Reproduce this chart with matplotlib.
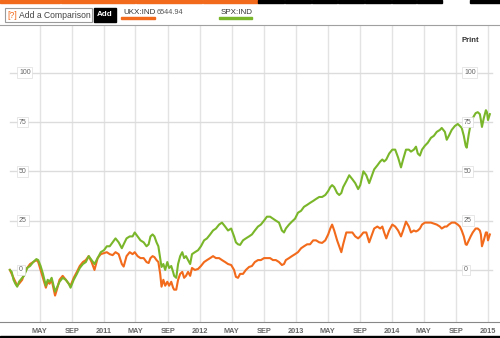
import matplotlib
matplotlib.use("Agg")
import matplotlib.pyplot as plt
from matplotlib.patches import Rectangle
import pandas as pd

plt.rcParams['font.family'] = ['Liberation Sans', 'DejaVu Sans']

dates = [
    "2010-01-08","2010-01-15","2010-01-22","2010-01-29","2010-02-05","2010-02-12","2010-02-24","2010-03-03",
    "2010-03-15","2010-03-26","2010-04-07","2010-04-19","2010-04-26","2010-05-05","2010-05-14","2010-05-25",
    "2010-06-01","2010-06-08","2010-06-16","2010-06-29","2010-07-06","2010-07-16","2010-07-28","2010-08-09",
    "2010-08-20","2010-08-27","2010-09-08","2010-09-20","2010-10-01","2010-10-13","2010-10-24","2010-11-04",
    "2010-11-15","2010-11-26","2010-12-08","2010-12-20","2011-01-01","2011-01-12","2011-01-23","2011-02-03",
    "2011-02-14","2011-02-26","2011-03-10","2011-03-17","2011-03-28","2011-04-09","2011-04-20","2011-04-28",
    "2011-05-09","2011-05-20","2011-06-01","2011-06-12","2011-06-20","2011-06-27","2011-07-05","2011-07-12",
    "2011-07-20","2011-07-27","2011-08-03","2011-08-08","2011-08-15","2011-08-22","2011-08-30","2011-09-06",
    "2011-09-14","2011-09-21","2011-09-25","2011-10-03","2011-10-10","2011-10-18","2011-10-26","2011-11-02",
    "2011-11-09","2011-11-17","2011-11-25","2011-12-02","2011-12-13","2011-12-25","2012-01-05","2012-01-17",
    "2012-01-28","2012-02-09","2012-02-20","2012-03-02","2012-03-14","2012-03-25","2012-04-06","2012-04-17",
    "2012-04-29","2012-05-10","2012-05-17","2012-05-25","2012-06-02","2012-06-13","2012-06-24","2012-07-06",
    "2012-07-17","2012-07-28","2012-08-09","2012-08-20","2012-09-01","2012-09-12","2012-09-24","2012-10-05",
    "2012-10-16","2012-10-28","2012-11-08","2012-11-16","2012-11-23","2012-12-05","2012-12-16","2012-12-28",
    "2013-01-08","2013-01-20","2013-01-31","2013-02-12","2013-02-23","2013-03-07","2013-03-18","2013-03-30",
    "2013-04-10","2013-04-22","2013-05-03","2013-05-11","2013-05-18","2013-05-26","2013-06-06","2013-06-14",
    "2013-06-22","2013-06-29","2013-07-11","2013-07-22","2013-08-03","2013-08-14","2013-08-25","2013-09-02",
    "2013-09-14","2013-09-25","2013-10-06","2013-10-14","2013-10-25","2013-11-06","2013-11-17","2013-11-25",
    "2013-12-02","2013-12-10","2013-12-21","2014-01-02","2014-01-13","2014-01-24","2014-02-04","2014-02-12",
    "2014-02-23","2014-03-06","2014-03-14","2014-03-25","2014-04-02","2014-04-09","2014-04-17","2014-04-25",
    "2014-05-06","2014-05-17","2014-05-29","2014-06-09","2014-06-20","2014-07-02","2014-07-09","2014-07-21",
    "2014-07-28","2014-08-05","2014-08-16","2014-08-28","2014-09-08","2014-09-16","2014-09-23","2014-10-01",
    "2014-10-08","2014-10-12","2014-10-20","2014-10-27","2014-11-04","2014-11-15","2014-11-23","2014-12-01",
    "2014-12-05","2014-12-09","2014-12-16","2014-12-24","2014-12-28","2015-01-01","2015-01-08",
]

spx = [
    0, -1, -5, -7, -8.5, -6, -4, -3,
    1, 2, 4, 5.5, 5, 2, -2, -8,
    -5, -6, -4, -11, -9, -6, -4, -5,
    -7, -9, -5, -2, 1, 3, 4, 7,
    5, 3, 6, 9, 10, 12, 12, 14,
    16, 14, 11, 13, 16, 17, 17, 19,
    17, 15, 14, 12, 13, 17, 18, 17,
    14, 12, 6, 1.5, 3, 0, 4, 1,
    2, -1, -3, -4, 3, 7, 9, 6,
    7, 5, 3, 8, 9, 10, 12, 15,
    16, 18, 20, 21, 23, 24, 22, 20,
    21, 17, 14, 13, 12.7, 15, 16, 17,
    18, 20, 22, 23, 25, 27, 27, 26,
    25, 24, 20, 19, 21, 23, 24.5, 26,
    29, 30, 32, 33, 34, 35, 36, 37,
    37, 38, 40, 42, 43, 42, 39, 38,
    39, 42, 45, 48, 46, 44, 41, 43,
    50, 48, 44, 47, 51, 53, 55, 56,
    55, 56, 59, 61, 61, 57, 52, 56,
    61, 61, 60, 61, 62.5, 59, 58, 61,
    63, 64.5, 67, 68, 70, 71, 72, 70,
    66, 68, 71, 73, 74, 73, 72, 68,
    63, 62, 69, 74, 77, 79.5, 80, 79,
    76, 72.5, 77, 81, 80, 76, 79,
]

ukx = [
    0, -2, -4, -6, -8, -7, -5, -2,
    1, 3, 4, 5, 4, 0, -4, -9,
    -6, -7, -5, -13, -10, -5, -3, -5,
    -7, -8, -4, -1, 2, 4, 5, 7,
    4, 0, 6, 8, 8.5, 9, 8, 7.5,
    9, 8, 3, 1.7, 7, 9, 8, 9,
    7, 6, 6, 4, 3.5, 6, 7, 6.5,
    5, 4, -2, -8.5, -5, -8, -6, -8,
    -6, -9, -10, -10, -5, -2, -1, -4,
    -3, -1, -3, 1, 0, 0.5, 2, 4,
    5, 6, 7, 6, 6, 5, 4, 3,
    2.5, 0, -3.5, -4, -2, -2, 0, 1.5,
    2, 4, 5, 5, 6, 6, 6, 5,
    5, 4, 2.5, 3, 5, 6, 7, 8,
    9, 11, 12, 13, 13, 15, 15, 14,
    13.7, 15, 18, 21, 23, 20, 15, 12,
    9, 13, 19, 19, 19, 17, 16, 17,
    19, 19, 14, 17, 21, 22, 21, 22,
    19, 16, 20, 23, 22, 20, 17, 20,
    24.5, 22, 19, 20, 19.5, 20, 21, 23,
    24, 24, 24, 23.5, 23, 22, 21, 22,
    22, 23, 24, 24, 23, 22, 20, 17,
    13, 12.7, 15, 17, 19, 21, 21, 20,
    18, 12, 15, 19, 19, 15, 18,
]

y_ticks = [0, 25, 50, 75, 100]
x_tick_dates = ["2010-05-01", "2010-09-01", "2011-01-01", "2011-05-01", "2011-09-01", "2012-01-01",
                "2012-05-01", "2012-09-01", "2013-01-01", "2013-05-01", "2013-09-01", "2014-01-01",
                "2014-05-01", "2014-09-01", "2015-01-01"]
x_tick_labels = ["MAY", "SEP", "2011", "MAY", "SEP", "2012", "MAY", "SEP", "2013", "MAY", "SEP",
                 "2014", "MAY", "SEP", "2015"]

W, H = 500, 338
fig = plt.figure(figsize=(W / 100, H / 100), dpi=100)
fig.patch.set_facecolor("white")

def fx(x):
    return x / W

def fy(y):
    return 1 - y / H

ORANGE = "#f26a1b"
GREEN = "#7ab62a"

# top tab bar
for a, b in [(0, 60), (61, 135), (136, 202), (203, 258)]:
    fig.patches.append(Rectangle((fx(a), fy(3)), fx(b - a), 3 / H, transform=fig.transFigure,
                                 color=ORANGE, zorder=5))
bx = [258, 285, 312, 338, 365, 392, 417, 443]
for a, b in zip(bx[:-1], bx[1:]):
    fig.patches.append(Rectangle((fx(a), fy(3)), fx(b - a - 1), 3 / H, transform=fig.transFigure,
                                 color="black", zorder=5))
fig.patches.append(Rectangle((fx(470), fy(3)), fx(30), 3 / H, transform=fig.transFigure,
                             color="black", zorder=5))

# header controls
fig.patches.append(Rectangle((fx(5), fy(22)), fx(87), 14 / H, transform=fig.transFigure,
                             facecolor="white", edgecolor="#9a9a9a", lw=0.8, zorder=5))
fig.text(fx(7), fy(15), "[?]", color=ORANGE, fontsize=6.2, va="center", ha="left", zorder=7)
fig.text(fx(19), fy(15), "Add a Comparison", color="#444444", fontsize=6.2, va="center", ha="left",
         zorder=7)
fig.patches.append(Rectangle((fx(94), fy(22)), fx(22), 14 / H, transform=fig.transFigure,
                             facecolor="black", edgecolor="black", zorder=5))
fig.text(fx(105), fy(15), "Add", color="white", fontsize=5.8, fontweight="bold", va="center", ha="center",
         zorder=7)
fig.text(fx(123), fy(12), "UKX:IND", color="#333333", fontsize=5.8, va="center", ha="left", zorder=7)
fig.text(fx(157), fy(12), "6544.94", color="#555555", fontsize=5.2, va="center", ha="left", zorder=7)
fig.patches.append(Rectangle((fx(121), fy(19)), fx(34), 2 / H, transform=fig.transFigure,
                             color=ORANGE, zorder=5))
fig.text(fx(221), fy(12), "SPX:IND", color="#333333", fontsize=5.8, va="center", ha="left", zorder=7)
fig.patches.append(Rectangle((fx(219), fy(19)), fx(33), 2 / H, transform=fig.transFigure,
                             color=GREEN, zorder=5))

# main axes
ax = fig.add_axes([0, fy(322), 1, (322 - 25) / H])
ax.set_facecolor("white")
dt = pd.to_datetime(dates)
x0 = pd.Timestamp("2010-01-01") - pd.Timedelta(days=8 * 3.804)
x1 = pd.Timestamp("2015-01-01") + pd.Timedelta(days=12 * 3.804)
ax.set_xlim(x0, x1)
ax.set_ylim(-26.4, 124.2)

tick_dt = pd.to_datetime(x_tick_dates)
for t in tick_dt:
    ax.axvline(t, color="#e3e3e3", lw=1.0, zorder=1)
for v in y_ticks:
    ax.axhline(v, xmin=0.02, xmax=0.984, color="#dcdcdc", lw=1.0, zorder=1)

ax.plot(dt, ukx, color=ORANGE, lw=1.5, zorder=3)
ax.plot(dt, spx, color=GREEN, lw=1.5, zorder=4)

ytr = ax.get_yaxis_transform()
for v in y_ticks:
    for xpos in (0.038, 0.928):
        ax.text(xpos, v, str(v), transform=ytr, fontsize=5.0, color="#666666", va="center", ha="left",
                zorder=5, bbox=dict(boxstyle="square,pad=0.25", facecolor="white", edgecolor="#dddddd",
                                    lw=0.5))

ax.text(fx(462), fy(40), "Print", transform=fig.transFigure, fontsize=5.5, fontweight="bold",
        color="#333333", va="center", ha="left")

ax.set_xticks(tick_dt)
ax.set_xticklabels(x_tick_labels, fontsize=5.3, color="#666666", fontweight="bold")
ax.tick_params(axis="x", length=0, pad=4)
ax.set_yticks([])
for s in ("left", "right"):
    ax.spines[s].set_visible(False)
ax.spines["top"].set_color("#a0a0a0")
ax.spines["top"].set_linewidth(0.8)
ax.spines["bottom"].set_color("#888888")
ax.spines["bottom"].set_linewidth(0.8)

# bottom bar
fig.patches.append(Rectangle((0, 0), 1, 2 / H, transform=fig.transFigure, color="black", zorder=5))

fig.savefig("out.png", dpi=100)
